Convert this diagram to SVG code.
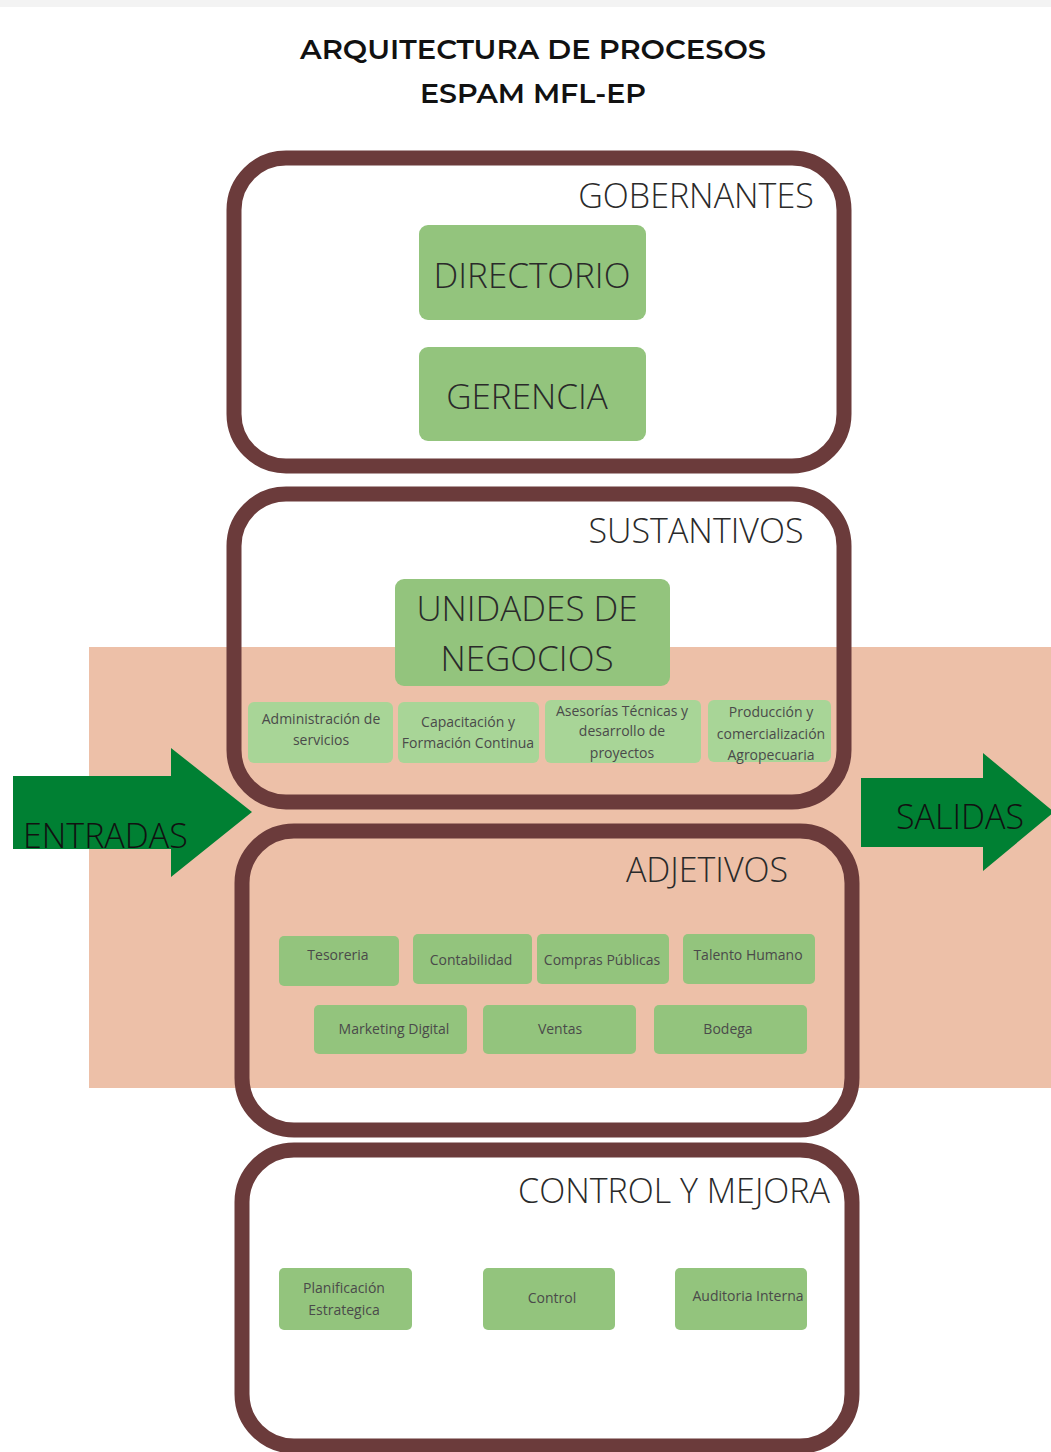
<svg xmlns="http://www.w3.org/2000/svg" width="1051" height="1452" viewBox="0 0 1051 1452">
<style>
.frame{fill:none;stroke:#6b3b3b;stroke-width:15}
.box{fill:#93c47d}
.lbox{fill:#a8d597}
.arrow{fill:#008033}
.title{font-family:"Montserrat","Roboto","Liberation Sans",sans-serif;font-weight:600;font-size:28px;fill:#111;text-anchor:middle}
.sec{font-family:"Open Sans","Liberation Sans",sans-serif;font-weight:300;font-size:34px;fill:#2a2a2a;text-anchor:middle}
.big{font-family:"Open Sans","Liberation Sans",sans-serif;font-weight:300;font-size:35px;fill:#2a2a2a;text-anchor:middle}
.sm{font-family:"Open Sans","Liberation Sans",sans-serif;font-weight:400;font-size:14px;fill:#4a4a4a;text-anchor:middle}
.arr{font-family:"Open Sans","Liberation Sans",sans-serif;font-weight:300;font-size:34px;fill:#111}
</style>
<rect x="0" y="0" width="1051" height="1452" fill="#fff"/>
<rect x="0" y="0" width="1051" height="7" fill="#f3f3f3"/>
<rect id="band" x="89" y="647" width="962" height="441" fill="#edc0a8"/>

<g id="title">
<text class="title" x="533" y="59" textLength="466" lengthAdjust="spacingAndGlyphs">ARQUITECTURA DE PROCESOS</text>
<text class="title" x="533" y="103" textLength="226" lengthAdjust="spacingAndGlyphs">ESPAM MFL-EP</text>
</g>

<g id="gobernantes">
<rect class="frame" x="234" y="158" width="610" height="308" rx="52"/>
<text class="sec" x="696" y="208">GOBERNANTES</text>
</g>
<g id="directorio"><rect class="box" x="419" y="225" width="227" height="95" rx="9"/><text class="big" x="532" y="288">DIRECTORIO</text></g>
<g id="gerencia"><rect class="box" x="419" y="347" width="227" height="94" rx="9"/><text class="big" x="527" y="409">GERENCIA</text></g>

<g id="sustantivos">
<rect class="frame" x="234" y="494" width="610" height="308" rx="52"/>
<text class="sec" x="696" y="543">SUSTANTIVOS</text>
</g>
<g id="unidades"><rect class="box" x="395" y="579" width="275" height="107" rx="9"/><text class="big" x="527" y="621">UNIDADES DE</text><text class="big" x="527" y="671">NEGOCIOS</text></g>
<g id="admin"><rect class="lbox" x="248" y="702" width="145" height="61" rx="6"/><text class="sm" x="321" y="724">Administración de</text><text class="sm" x="321" y="745">servicios</text></g>
<g id="capacitacion"><rect class="lbox" x="398" y="702" width="141" height="61" rx="6"/><text class="sm" x="468" y="727">Capacitación y</text><text class="sm" x="468" y="748">Formación Continua</text></g>
<g id="asesorias"><rect class="lbox" x="545" y="700" width="156" height="63" rx="6"/><text class="sm" x="622" y="716">Asesorías Técnicas y</text><text class="sm" x="622" y="736">desarrollo de</text><text class="sm" x="622" y="758">proyectos</text></g>
<g id="produccion"><rect class="lbox" x="708" y="700" width="123" height="62" rx="6"/><text class="sm" x="771" y="717">Producción y</text><text class="sm" x="771" y="739">comercialización</text><text class="sm" x="771" y="760">Agropecuaria</text></g>

<g id="adjetivos">
<rect class="frame" x="242" y="831" width="610" height="299" rx="52"/>
<text class="sec" x="707" y="882">ADJETIVOS</text>
</g>
<g id="tesoreria"><rect class="box" x="279" y="936" width="120" height="50" rx="5"/><text class="sm" x="338" y="960">Tesoreria</text></g>
<g id="contabilidad"><rect class="box" x="413" y="934" width="119" height="50" rx="5"/><text class="sm" x="471" y="965">Contabilidad</text></g>
<g id="compras"><rect class="box" x="537" y="934" width="132" height="50" rx="5"/><text class="sm" x="602" y="965">Compras Públicas</text></g>
<g id="talento"><rect class="box" x="683" y="934" width="132" height="50" rx="5"/><text class="sm" x="748" y="960">Talento Humano</text></g>
<g id="marketing"><rect class="box" x="314" y="1005" width="153" height="49" rx="5"/><text class="sm" x="394" y="1034">Marketing Digital</text></g>
<g id="ventas"><rect class="box" x="483" y="1005" width="153" height="49" rx="5"/><text class="sm" x="560" y="1034">Ventas</text></g>
<g id="bodega"><rect class="box" x="654" y="1005" width="153" height="49" rx="5"/><text class="sm" x="728" y="1034">Bodega</text></g>

<g id="control-mejora">
<rect class="frame" x="242" y="1150" width="610" height="296" rx="52"/>
<text class="sec" x="674" y="1203">CONTROL Y MEJORA</text>
</g>
<g id="planificacion"><rect class="box" x="279" y="1268" width="133" height="62" rx="5"/><text class="sm" x="344" y="1293">Planificación</text><text class="sm" x="344" y="1315">Estrategica</text></g>
<g id="control"><rect class="box" x="483" y="1268" width="132" height="62" rx="5"/><text class="sm" x="552" y="1303">Control</text></g>
<g id="auditoria"><rect class="box" x="675" y="1268" width="132" height="62" rx="5"/><text class="sm" x="748" y="1301">Auditoria Interna</text></g>

<g id="connectors">
<g id="entradas"><polygon class="arrow" points="13,776 171,776 171,748 252,812 171,877 171,849 13,849"/><text class="arr" x="23" y="848">ENTRADAS</text></g>
<g id="salidas"><polygon class="arrow" points="861,778 983,778 983,753 1054,812 983,871 983,847 861,847"/><text class="arr" x="896" y="829">SALIDAS</text></g>
</g>
</svg>
